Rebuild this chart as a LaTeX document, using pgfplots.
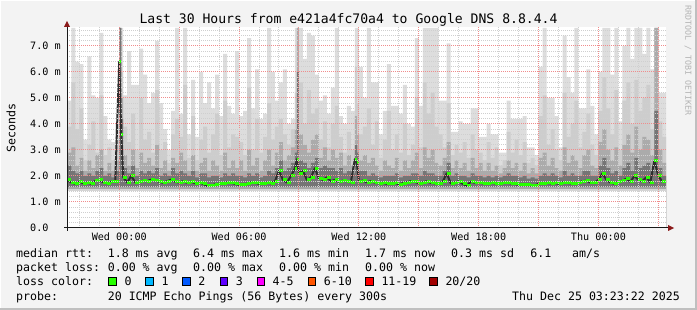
\documentclass[border=0pt]{standalone}
\usepackage{pgfplots}
\pgfplotsset{compat=1.18}
\usepackage{pgfplotstable}
\usepackage{fontspec}
\setmainfont{DejaVu Sans Mono}
\newcommand\legfont{\fontsize{11.6bp}{13bp}\selectfont}
\newcommand\axfont{\fontsize{10.15bp}{12bp}\selectfont}
\newcommand\titfont{\fontsize{13.1bp}{15bp}\selectfont}
\newcommand\wmfont{\fontsize{8.3bp}{9bp}\selectfont}
\definecolor{bg}{HTML}{F3F3F3}
\definecolor{cA}{HTML}{DDDDDD}
\definecolor{cB}{HTML}{CDCDCD}
\definecolor{cC}{HTML}{ABABAB}
\definecolor{cD}{HTML}{757575}
\definecolor{bandL}{HTML}{D4D4D4}
\definecolor{bandD}{HTML}{A6A6A6}
\definecolor{medline}{HTML}{2E2E2E}
\definecolor{lgreen}{HTML}{26FF00}
\definecolor{lcyan}{HTML}{00B8FF}
\definecolor{lblue}{HTML}{0059FF}
\definecolor{lpurple}{HTML}{5E00FF}
\definecolor{lmag}{HTML}{FF00FF}
\definecolor{lorange}{HTML}{FF5500}
\definecolor{lred}{HTML}{FF0000}
\definecolor{ldred}{HTML}{A10000}
\definecolor{gridred}{HTML}{F08C8C}
\definecolor{gridgray}{HTML}{CFCFCF}
\definecolor{arrowred}{HTML}{8B1A1A}
\definecolor{wm}{HTML}{B4B4B4}

\pgfplotstableread{
t l1 l2 l3 l4 med
-2.6 4.9 3.9 2.9 2.4 1.85
-2.4 7.7 5.6 3.1 2.2 1.75
-2.2 6.4 3.8 2.4 2.1 1.70
-2.0 6.3 4.6 2.7 2.2 1.78
-1.8 3.4 2.6 2.2 2.0 1.72
-1.6 6.6 3.2 2.6 2.1 1.75
-1.4 5.1 4.1 2.3 2.0 1.70
-1.2 5.0 2.9 2.8 2.2 1.82
-1.0 7.5 5.1 3.0 2.3 1.85
-0.8 4.3 2.8 2.2 2.0 1.76
-0.6 3.4 3.1 2.5 2.1 1.72
-0.4 3.3 2.6 2.2 1.95 1.78
-0.2 4.0 3.4 2.6 2.2 1.80
0.0 7.7 7.7 7.7 7.7 6.40
0.1 7.7 6.0 5.0 4.2 3.60
0.2 5.1 3.9 2.8 2.3 1.95
0.4 6.8 3.3 2.4 2.1 1.75
0.6 5.5 4.4 3.0 2.4 2.00
0.8 5.5 3.0 2.3 2.0 1.76
1.0 6.9 5.0 2.9 2.2 1.78
1.2 5.9 3.4 2.5 2.1 1.82
1.4 4.8 3.7 2.7 2.2 1.80
1.6 5.2 2.9 2.4 2.1 1.86
1.8 7.2 5.3 3.2 2.3 1.84
2.0 4.8 3.0 2.3 2.0 1.78
2.2 3.8 3.3 2.6 2.1 1.74
2.4 3.0 2.5 2.2 2.0 1.80
2.6 4.5 3.6 2.7 2.3 1.86
2.8 7.7 4.2 2.5 2.1 1.78
3.0 4.4 3.5 2.9 2.2 1.75
3.2 7.7 5.5 2.6 2.1 1.80
3.4 3.6 2.7 2.2 2.0 1.74
3.6 5.7 4.3 2.8 2.2 1.78
3.8 3.5 2.6 2.2 1.95 1.72
4.0 6.0 3.4 2.5 2.1 1.75
4.2 4.8 3.9 2.7 2.1 1.70
4.4 5.6 2.9 2.2 1.95 1.62
4.6 4.6 3.6 2.6 2.0 1.62
4.8 5.9 4.4 2.4 2.0 1.68
5.0 4.3 2.8 2.2 1.95 1.70
5.2 6.7 4.9 2.9 2.1 1.72
5.4 4.7 3.1 2.3 2.0 1.76
5.6 4.4 3.6 2.6 2.1 1.74
5.8 6.8 3.5 2.3 2.0 1.70
6.0 4.3 3.3 2.6 2.0 1.66
6.2 4.5 2.8 2.2 1.95 1.68
6.4 7.3 5.4 3.0 2.1 1.70
6.6 4.6 3.0 2.4 2.0 1.76
6.8 6.1 4.2 2.7 2.1 1.74
7.0 4.2 2.9 2.2 1.95 1.70
7.2 4.4 3.5 2.6 2.0 1.72
7.4 7.7 4.8 3.0 2.2 1.75
7.6 6.0 3.4 2.4 2.1 1.72
7.8 4.9 3.9 2.9 2.3 1.80
8.0 5.6 4.2 3.3 2.6 2.20
8.2 6.1 3.6 2.6 2.2 1.85
8.4 4.0 3.2 2.8 2.3 1.75
8.6 4.2 3.8 3.1 2.5 2.00
8.8 7.7 5.2 3.8 2.9 2.30
8.9 7.7 7.7 7.7 6.0 2.65
9.0 7.7 5.6 3.6 2.6 2.10
9.2 6.5 4.0 3.2 2.5 2.20
9.4 7.5 5.3 2.9 2.3 1.85
9.6 7.4 4.4 3.4 2.5 1.95
9.8 5.9 4.6 3.6 2.7 2.30
10.0 4.9 3.4 2.7 2.3 1.90
10.2 5.1 4.1 3.1 2.4 1.85
10.4 4.4 3.1 2.6 2.3 1.95
10.6 5.4 4.0 3.0 2.3 1.80
10.8 7.7 4.7 2.7 2.2 1.85
11.0 4.3 3.5 2.9 2.3 1.78
11.2 4.0 2.9 2.4 2.1 1.82
11.4 4.7 3.7 2.8 2.2 1.80
11.6 4.5 3.0 2.4 2.1 1.76
11.8 7.7 6.2 4.3 3.2 2.65
11.9 7.7 4.8 3.6 2.9 2.50
12.0 6.2 3.6 2.6 2.2 1.80
12.2 5.0 3.9 2.8 2.2 1.82
12.4 7.7 4.6 2.5 2.0 1.76
12.6 5.6 3.2 2.7 2.1 1.80
12.8 5.6 4.1 2.4 2.0 1.75
13.0 3.6 2.7 2.2 1.95 1.72
13.2 4.5 3.4 2.6 2.0 1.74
13.4 6.3 4.5 2.4 2.0 1.70
13.6 4.7 3.0 2.3 2.0 1.72
13.8 4.7 3.6 2.7 2.1 1.75
14.0 4.4 2.9 2.2 1.95 1.68
14.2 5.5 4.0 2.6 2.0 1.72
14.4 4.0 2.8 2.3 2.0 1.76
14.6 3.9 3.2 2.6 2.1 1.80
14.8 7.3 5.0 2.9 2.1 1.78
15.0 4.7 3.1 2.3 2.0 1.72
15.2 7.7 5.6 3.1 2.2 1.75
15.4 7.7 4.4 2.7 2.1 1.80
15.6 7.7 5.2 3.0 2.1 1.74
15.8 7.7 3.9 2.5 2.0 1.72
16.0 4.9 3.6 2.4 2.0 1.70
16.2 4.9 3.1 2.7 2.2 1.78
16.4 7.1 4.8 3.3 2.5 2.10
16.6 3.7 2.8 2.3 2.0 1.72
16.8 3.7 3.2 2.6 2.1 1.75
17.0 4.1 2.9 2.3 2.0 1.80
17.2 4.0 3.3 2.5 2.0 1.70
17.4 4.0 2.7 2.2 1.95 1.62
17.6 4.6 3.6 2.7 2.1 1.78
17.8 4.6 3.0 2.3 2.0 1.74
18.0 3.5 2.9 2.5 2.0 1.76
18.2 3.5 2.6 2.2 1.95 1.72
18.4 4.0 3.3 2.5 2.0 1.70
18.6 3.6 2.7 2.2 1.95 1.74
18.8 3.6 3.1 2.4 2.0 1.72
19.0 2.9 2.4 2.1 1.95 1.70
19.2 2.9 2.6 2.3 2.0 1.74
19.4 4.9 3.7 2.6 2.1 1.76
19.6 4.2 2.9 2.3 2.0 1.72
19.8 4.2 3.4 2.5 2.0 1.70
20.0 4.2 2.8 2.2 1.95 1.66
20.2 4.3 3.3 2.5 2.0 1.68
20.4 3.1 2.5 2.1 1.9 1.66
20.6 3.1 2.7 2.3 1.95 1.64
20.8 2.8 2.4 2.1 1.9 1.62
21.0 6.2 4.3 2.7 2.0 1.70
21.2 7.7 5.1 2.9 2.1 1.72
21.4 5.0 3.2 2.4 2.0 1.74
21.6 5.0 3.8 2.7 2.1 1.72
21.8 4.3 3.0 2.3 2.0 1.74
22.0 3.1 2.6 2.2 1.95 1.70
22.2 7.4 5.2 3.1 2.2 1.76
22.4 5.8 3.5 2.5 2.0 1.74
22.6 5.2 4.0 2.8 2.1 1.72
22.8 7.7 4.9 2.6 2.0 1.70
23.0 4.6 3.1 2.3 2.0 1.74
23.2 4.6 3.7 2.8 2.2 1.80
23.4 6.1 4.4 3.0 2.2 1.82
23.6 4.7 3.2 2.4 2.0 1.75
23.8 3.6 2.8 2.3 2.0 1.74
24.0 6.0 4.5 3.3 2.4 1.85
24.2 7.7 5.8 3.8 2.7 2.10
24.4 7.7 4.6 3.0 2.3 1.85
24.6 5.9 3.6 2.6 2.1 1.75
24.8 7.7 5.3 3.1 2.2 1.70
25.0 4.1 3.0 2.4 2.0 1.78
25.2 7.0 4.9 3.2 2.3 1.82
25.4 7.7 5.6 3.6 2.5 1.90
25.6 6.5 4.0 2.9 2.2 1.78
25.8 7.7 5.7 3.9 2.7 2.00
26.0 7.7 4.5 3.0 2.3 1.85
26.2 6.7 5.0 3.5 2.4 1.80
26.4 7.7 5.5 3.4 2.5 1.95
26.6 6.1 3.8 2.8 2.2 1.75
26.8 7.7 7.7 7.7 4.5 2.60
27.0 5.2 4.1 3.0 2.3 2.00
27.2 5.2 3.5 2.5 2.0 1.78
27.4 5.2 3.5 2.5 2.0 1.78
}\smoke

\begin{document}
\begin{tikzpicture}
\useasboundingbox (0,0) rectangle (697bp,310bp);
\fill[bg] (0,0) rectangle (697bp,310bp);
\draw[white, line width=1bp] (0.5bp,0bp) -- (0.5bp,309.5bp) -- (697bp,309.5bp);
\draw[black!25, line width=2bp] (0,1bp) -- (696bp,1bp) -- (696bp,310bp);

\begin{axis}[
  at={(67bp,82bp)}, anchor=south west,
  scale only axis, width=599bp, height=201bp,
  xmin=-2.617, xmax=27.383, ymin=0, ymax=7.73,
  axis on top,
  axis background/.style={fill=white},
  axis line style={draw=none},
  xtick={0,3,...,27},
  xticklabels={Wed 00:00,,Wed 06:00,,Wed 12:00,,Wed 18:00,,Thu 00:00,},
  minor xtick={-2,-1,1,2,4,5,7,8,10,11,13,14,16,17,19,20,22,23,25,26},
  ytick={0,1,...,7},
  yticklabels={0.0\phantom{ m},1.0 m,2.0 m,3.0 m,4.0 m,5.0 m,6.0 m,7.0 m},
  minor ytick={0.2,0.4,...,7.61},
  grid=both,
  major grid style={draw=gridred, dash pattern=on 1bp off 1bp, line width=1bp},
  minor grid style={draw=gridgray, dash pattern=on 1bp off 1bp, line width=1bp},
  major tick length=0pt, minor tick length=0pt,
  xticklabel style={font=\axfont, anchor=base, yshift=-12.7bp, inner sep=0pt},
  yticklabel style={font=\axfont, anchor=west, xshift=-37bp, inner sep=0pt},
]
\addplot[const plot, fill=cA, draw=none] table[x=t,y=l1]{\smoke} \closedcycle;
\addplot[const plot, fill=cB, draw=none] table[x=t,y=l2]{\smoke} \closedcycle;
\addplot[const plot, fill=cC, draw=none] table[x=t,y=l3]{\smoke} \closedcycle;
\addplot[const plot, fill=cD, draw=none] table[x=t,y=l4]{\smoke} \closedcycle;
\addplot[fill=white, draw=none] coordinates {(-2.617,0) (27.383,0) (27.383,1.42) (-2.617,1.42)} -- cycle;
\addplot[fill=bandL, draw=none] coordinates {(-2.617,1.42) (27.383,1.42) (27.383,1.50) (-2.617,1.50)} -- cycle;
\addplot[fill=bandD, draw=none] coordinates {(-2.617,1.50) (27.383,1.50) (27.383,1.58) (-2.617,1.58)} -- cycle;
\addplot[sharp plot, draw=medline, line width=2bp, line join=round] table[x=t,y=med]{\smoke};
\addplot[jump mark left, draw=lgreen, line width=3bp, mark=none] table[x=t,y=med]{\smoke};
\end{axis}

% axes with arrows
\draw[black!90, line width=1bp] (64bp,82bp) -- (668bp,82bp);
\fill[arrowred] (668bp,79bp) -- (674bp,82bp) -- (668bp,85bp) -- cycle;
\draw[black!90, line width=1bp] (67bp,79bp) -- (67bp,283bp);
\fill[arrowred] (64bp,283bp) -- (67bp,289bp) -- (70bp,283bp) -- cycle;

% title and labels
\node[font=\titfont, anchor=base, inner sep=0pt] at (348.5bp,286bp) {Last 30 Hours from e421a4fc70a4 to Google DNS 8.8.4.4};
\node[font=\legfont, rotate=90, inner sep=0pt] at (11bp,182bp) {Seconds};
\node[font=\wmfont, text=wm, rotate=-90, anchor=west, inner sep=0pt] at (688bp,305bp) {RRDTOOL / TOBI OETIKER};

% legend
\begin{scope}[every node/.style={font=\legfont, anchor=base west, inner sep=0pt}]
\node at (16bp,52.7bp) {median rtt:};
\node at (107.6bp,52.7bp) {1.8 ms avg};
\node at (193bp,52.7bp) {6.4 ms max};
\node at (279bp,52.7bp) {1.6 ms min};
\node at (365bp,52.7bp) {1.7 ms now};
\node at (451bp,52.7bp) {0.3 ms sd};
\node at (530.2bp,52.7bp) {6.1};
\node at (572bp,52.7bp) {am/s};
\node at (16bp,38.3bp) {packet loss:};
\node at (107.6bp,38.3bp) {0.00 \% avg};
\node at (193bp,38.3bp) {0.00 \% max};
\node at (279bp,38.3bp) {0.00 \% min};
\node at (365bp,38.3bp) {0.00 \% now};
\node at (16bp,24.3bp) {loss color:};
\node at (124.3bp,24.3bp) {0};
\node at (161.3bp,24.3bp) {1};
\node at (198.2bp,24.3bp) {2};
\node at (235.6bp,24.3bp) {3};
\node at (272.4bp,24.3bp) {4-5};
\node at (323.6bp,24.3bp) {6-10};
\node at (381.3bp,24.3bp) {11-19};
\node at (445.3bp,24.3bp) {20/20};
\node at (16bp,10bp) {probe:};
\node at (107.6bp,10bp) {20 ICMP Echo Pings (56 Bytes) every 300s};
\node[anchor=base east] at (680bp,10bp) {Thu Dec 25 03:23:22 2025};
\end{scope}
\begin{scope}[line width=0.8bp]
\filldraw[fill=lgreen, draw=black] (108.8bp,25bp) rectangle ++(7.5bp,7.5bp);
\filldraw[fill=lcyan, draw=black] (145.8bp,25bp) rectangle ++(7.5bp,7.5bp);
\filldraw[fill=lblue, draw=black] (182.7bp,25bp) rectangle ++(7.5bp,7.5bp);
\filldraw[fill=lpurple, draw=black] (220.1bp,25bp) rectangle ++(7.5bp,7.5bp);
\filldraw[fill=lmag, draw=black] (256.9bp,25bp) rectangle ++(7.5bp,7.5bp);
\filldraw[fill=lorange, draw=black] (308.1bp,25bp) rectangle ++(7.5bp,7.5bp);
\filldraw[fill=lred, draw=black] (365.8bp,25bp) rectangle ++(7.5bp,7.5bp);
\filldraw[fill=ldred, draw=black] (429.8bp,25bp) rectangle ++(7.5bp,7.5bp);
\end{scope}
\end{tikzpicture}
\end{document}
